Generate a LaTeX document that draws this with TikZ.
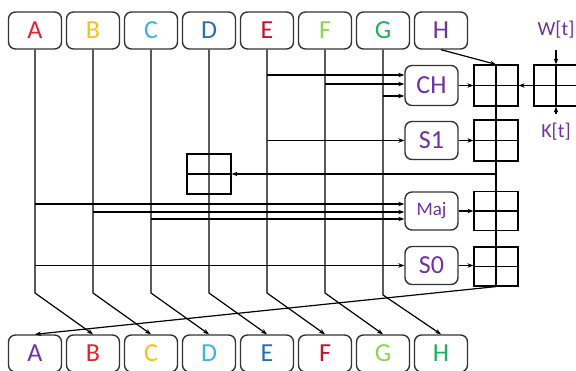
\documentclass[tikz,border=0pt]{standalone}
\usepackage{fontspec}
\setmainfont{Carlito}
\usetikzlibrary{arrows.meta}
\definecolor{cRed}{HTML}{E8202E}
\definecolor{cYellow}{HTML}{F2C419}
\definecolor{cCyan}{HTML}{3BB3E3}
\definecolor{cBlue}{HTML}{2A6DB5}
\definecolor{cDRed}{HTML}{C8102E}
\definecolor{cLGreen}{HTML}{92D050}
\definecolor{cGreen}{HTML}{1FAF5F}
\definecolor{cPurple}{HTML}{7030A0}
\tikzset{
  regbox/.style={draw=black!80, line width=1.4pt, rounded corners=7pt, minimum width=53pt, minimum height=37pt, inner sep=0pt, font=\fontsize{26}{30}\selectfont},
  funbox/.style={draw=black!80, line width=1.4pt, rounded corners=7pt, minimum width=53pt, minimum height=38pt, inner sep=0pt, text=cPurple, font=\fontsize{26}{30}\selectfont},
  addgrid/.style={draw=black, line width=1.2pt, minimum width=44pt, minimum height=40pt, inner sep=0pt},
  ln/.style={line width=1.2pt, black},
  arr/.style={line width=1.2pt, black, -{Stealth[length=6pt,width=4.5pt]}},
  lbl/.style={text=cPurple, font=\fontsize{20}{24}\selectfont, inner sep=0pt}
}
\begin{document}
\begin{tikzpicture}[x=1pt,y=-1pt]
\useasboundingbox (0,0) rectangle (576,371);
% top registers
\node[regbox, text=cRed]    (tA) at (35,30.5) {A};
\node[regbox, text=cYellow] (tB) at (93,30.5) {B};
\node[regbox, text=cCyan]   (tC) at (151,30.5) {C};
\node[regbox, text=cBlue]   (tD) at (209,30.5) {D};
\node[regbox, text=cDRed]   (tE) at (267,30.5) {E};
\node[regbox, text=cLGreen] (tF) at (325,30.5) {F};
\node[regbox, text=cGreen]  (tG) at (383,30.5) {G};
\node[regbox, text=cPurple] (tH) at (441,30.5) {H};
% bottom registers
\node[regbox, text=cPurple] (bA) at (35,353.5) {A};
\node[regbox, text=cRed]    (bB) at (93,353.5) {B};
\node[regbox, text=cYellow] (bC) at (151,353.5) {C};
\node[regbox, text=cCyan]   (bD) at (209,353.5) {D};
\node[regbox, text=cBlue]   (bE) at (267,353.5) {E};
\node[regbox, text=cDRed]   (bF) at (325,353.5) {F};
\node[regbox, text=cLGreen] (bG) at (383,353.5) {G};
\node[regbox, text=cGreen]  (bH) at (441,353.5) {H};
% function boxes
\node[funbox, minimum height=40pt] (fCH) at (431.5,85.5) {CH};
\node[funbox] (fS1) at (431.5,140.5) {S1};
\node[funbox, font=\fontsize{19}{23}\selectfont] (fMaj) at (431.5,211) {Maj};
\node[funbox] (fS0) at (431.5,265.5) {S0};
% adder grids
\node[addgrid, minimum height=41pt] (g1) at (496,85.5) {};
\node[addgrid, minimum height=41pt] (g2) at (496,140.5) {};
\node[addgrid, minimum height=39pt] (g3) at (496,211) {};
\node[addgrid, minimum height=39pt] (g4) at (496,266.5) {};
\node[addgrid, minimum height=41pt] (gW) at (556,85.5) {};
\node[addgrid] (gD) at (209,174) {};
% grid crosses
\draw[ln] (g1.north) -- (g4.south);
\draw[ln] (g1.west) -- (g1.east);
\draw[ln] (g2.west) -- (g2.east);
\draw[ln] (g3.west) -- (g3.east);
\draw[ln] (g4.west) -- (g4.east);
\draw[ln] (gW.north) -- (gW.south);
\draw[ln] (gW.west) -- (gW.east);
\draw[ln] (gD.west) -- (gD.east);
% W and K
\node[lbl] (W) at (556,30) {W[t]};
\node[lbl] (K) at (556,132) {K[t]};
\coordinate (wS) at (556,50);
\coordinate (kS) at (556,114);
\draw[arr] (wS) -- (gW.north);
\draw[arr] (kS) -- (gW.south);
\draw[arr] (gW.west) -- (g1.east);
% H into first adder
\draw[arr] (tH.south) -- (g1.north);
% function outputs into adders
\draw[arr] (fCH.east) -- (g1.west);
\draw[arr] (fS1.east) -- (fS1.east -| g2.west);
\draw[arr] (fMaj.east) -- (g3.west);
\draw[arr] (fS0.east) -- (fS0.east -| g4.west);
% inputs to CH
\draw[arr] (tE.south |- 0,75) -- (fCH.west |- 0,75);
\draw[arr] (tF.south |- 0,84) -- (fCH.west |- 0,84);
\draw[arr] (tG.south |- 0,96) -- (fCH.west |- 0,96);
% input to S1
\draw[arr] (tE.south |- fS1.west) -- (fS1.west);
% feedback to D
\draw[arr] (g2.south |- gD.east) -- (gD.east);
% inputs to Maj
\draw[arr] (tA.south |- 0,204) -- (fMaj.west |- 0,204);
\draw[arr] (tB.south |- 0,212) -- (fMaj.west |- 0,212);
\draw[arr] (tC.south |- 0,219) -- (fMaj.west |- 0,219);
% input to S0
\draw[arr] (tA.south |- fS0.west) -- (fS0.west);
% shift lines
\draw[arr] (tA.south) -- (tA.south |- 0,293) -- (bB.north);
\draw[arr] (tB.south) -- (tB.south |- 0,293) -- (bC.north);
\draw[arr] (tC.south) -- (tC.south |- 0,293) -- (bD.north);
\draw[arr] (tD.south) -- (tD.south |- 0,293) -- (bE.north);
\draw[arr] (tE.south) -- (tE.south |- 0,293) -- (bF.north);
\draw[arr] (tF.south) -- (tF.south |- 0,293) -- (bG.north);
\draw[arr] (tG.south) -- (tG.south |- 0,295) -- (bH.north);
% new A
\draw[arr] (g4.south) -- (bA.north);
\end{tikzpicture}
\end{document}
